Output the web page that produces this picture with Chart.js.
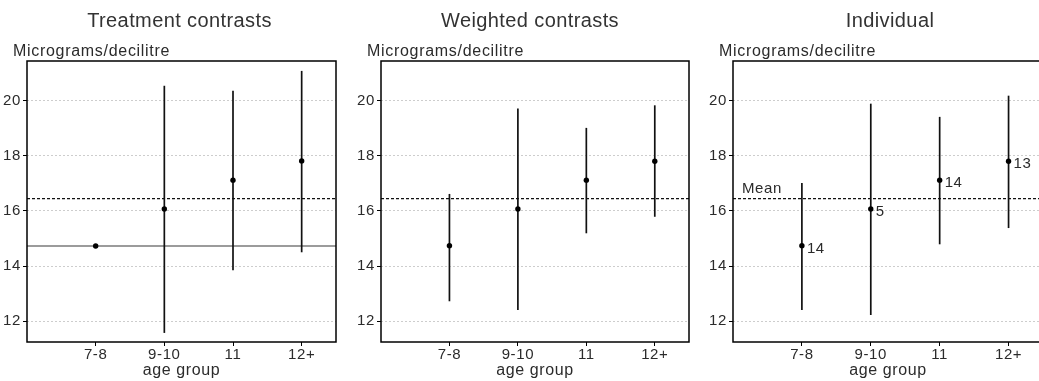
<!DOCTYPE html>
<html>
<head>
<meta charset="utf-8">
<script src="https://cdn.jsdelivr.net/npm/chart.js@4/dist/chart.umd.min.js"></script>
<style>
  html, body { margin: 0; padding: 0; background: #fff; overflow: hidden; width: 1039px; height: 381px; }
  canvas { position: absolute; top: 0; }
</style>
</head>
<body>
<canvas id="treatChart" width="340" height="381" style="left:0px"></canvas>
<canvas id="weightChart" width="343" height="381" style="left:350px"></canvas>
<canvas id="indivChart" width="347" height="381" style="left:700px"></canvas>
<script>
// Data
const categories = ['7-8', '9-10', '11', '12+'];
const yTicks = [12, 14, 16, 18, 20];
const grandMean = 16.45;
const referenceLevel = 14.73;

const treatEst = [14.73, 16.07, 17.12, 17.82];
const treatLow = [null, 11.57, 13.85, 14.50];
const treatHigh = [null, 20.55, 20.37, 21.09];

const weightEst = [14.74, 16.07, 17.12, 17.81];
const weightLow = [12.72, 12.40, 15.19, 15.79];
const weightHigh = [16.62, 19.72, 19.02, 19.84];

const indivEst = [14.74, 16.07, 17.12, 17.81];
const indivLow = [12.40, 12.22, 14.79, 15.38];
const indivHigh = [17.02, 19.90, 19.42, 20.19];
const indivCounts = [14, 5, 14, 13];

const xMin = 0, xMax = 4.5;
const yMin = 11.24, yMax = 21.45;

const FONT = '"Liberation Sans", Arial, sans-serif';
const TEXT = '#2b2b2b';
Chart.defaults.font.family = FONT;
Chart.defaults.color = TEXT;

// Titles, unit label, frame and the small annotations
const panelText = {
    id: 'panelText',
    beforeDraw(chart) {
        chart.ctx.letterSpacing = '0.6px';
    },
    afterDraw(chart, args, o) {
        const { ctx, chartArea: a, scales: { x, y } } = chart;
        ctx.save();
        ctx.strokeStyle = '#000';
        ctx.lineWidth = 1.5;
        ctx.strokeRect(a.left, a.top, a.right - a.left, a.bottom - a.top);

        ctx.fillStyle = '#333';
        ctx.letterSpacing = '0.4px';
        ctx.font = '20px ' + FONT;
        ctx.textAlign = 'center';
        ctx.textBaseline = 'alphabetic';
        ctx.fillText(o.title, (a.left + a.right) / 2 + o.titleShift, 26.5);

        ctx.fillStyle = TEXT;
        ctx.letterSpacing = '0.7px';
        ctx.font = '16px ' + FONT;
        ctx.textAlign = 'left';
        ctx.fillText('Micrograms/decilitre', a.left - 14, 55.5);

        if (o.counts) {
            ctx.letterSpacing = '0.6px';
            ctx.font = '15px ' + FONT;
            ctx.textBaseline = 'middle';
            o.counts.forEach((n, i) => {
                ctx.fillText(String(n), x.getPixelForValue(i + 1) + 5, y.getPixelForValue(o.est[i]) + 3);
            });
        }
        if (o.meanLabel) {
            ctx.font = '15px ' + FONT;
            ctx.textBaseline = 'alphabetic';
            ctx.fillText('Mean', a.left + 9, y.getPixelForValue(grandMean) - 6);
        }
        ctx.restore();
    }
};

function makePanel(id, cfg) {
    const datasets = [];
    // points
    datasets.push({
        data: cfg.est.map((v, i) => ({ x: i + 1, y: v })),
        showLine: false,
        pointRadius: 2.7,
        pointBackgroundColor: '#000',
        pointBorderWidth: 0
    });
    // interval bars
    cfg.low.forEach((lo, i) => {
        if (lo === null) return;
        datasets.push({
            data: [{ x: i + 1, y: lo }, { x: i + 1, y: cfg.high[i] }],
            showLine: true,
            borderColor: '#111',
            borderWidth: 1.7,
            pointRadius: 0
        });
    });
    // mean line
    datasets.push({
        data: [{ x: xMin, y: grandMean }, { x: xMax, y: grandMean }],
        showLine: true,
        borderColor: '#111',
        borderWidth: 1.4,
        borderDash: [3, 2],
        pointRadius: 0
    });
    // reference level (treatment contrasts only)
    if (cfg.refLine != null) {
        datasets.push({
            data: [{ x: xMin, y: cfg.refLine }, { x: xMax, y: cfg.refLine }],
            showLine: true,
            borderColor: '#7a7a7a',
            borderWidth: 1.5,
            pointRadius: 0
        });
    }

    return new Chart(document.getElementById(id), {
        type: 'scatter',
        data: { datasets: datasets },
        options: {
            responsive: false,
            animation: false,
            layout: { padding: { top: 61, right: cfg.padRight, left: 0, bottom: 0 } },
            plugins: {
                legend: { display: false },
                tooltip: { enabled: false },
                panelText: {
                    title: cfg.title,
                    titleShift: cfg.titleShift,
                    counts: cfg.counts || null,
                    est: cfg.est,
                    meanLabel: !!cfg.meanLabel
                }
            },
            scales: {
                x: {
                    type: 'linear',
                    min: xMin,
                    max: xMax,
                    afterBuildTicks: s => { s.ticks = categories.map((c, i) => ({ value: i + 1 })); },
                    afterFit: s => { s.height = 39; },
                    ticks: {
                        callback: v => categories[v - 1],
                        font: { size: 15 },
                        color: TEXT,
                        padding: 0,
                        maxRotation: 0,
                        autoSkip: false
                    },
                    grid: { drawOnChartArea: false, tickLength: 4, tickColor: '#000', tickWidth: 1 },
                    border: { display: false },
                    title: {
                        display: true,
                        text: 'age group',
                        font: { size: 16 },
                        color: TEXT,
                        padding: { top: 0, bottom: 1 }
                    }
                },
                y: {
                    min: yMin,
                    max: yMax,
                    afterBuildTicks: s => { s.ticks = yTicks.map(v => ({ value: v })); },
                    afterFit: s => { s.width = cfg.axisWidth; },
                    ticks: { font: { size: 15 }, color: TEXT, padding: 2 },
                    grid: { color: '#cdcdcd', lineWidth: 1, tickLength: 4, tickColor: '#000', tickBorderDash: [] },
                    border: { display: false, dash: [2, 2] }
                }
            }
        },
        plugins: [panelText]
    });
}

makePanel('treatChart', {
    title: 'Treatment contrasts', titleShift: -2,
    est: treatEst, low: treatLow, high: treatHigh,
    refLine: referenceLevel, axisWidth: 27, padRight: 2
});
makePanel('weightChart', {
    title: 'Weighted contrasts', titleShift: -5,
    est: weightEst, low: weightLow, high: weightHigh,
    axisWidth: 31, padRight: 2
});
makePanel('indivChart', {
    title: 'Individual', titleShift: 2,
    est: indivEst, low: indivLow, high: indivHigh,
    counts: indivCounts, meanLabel: true, axisWidth: 33, padRight: 2
});
</script>
</body>
</html>
